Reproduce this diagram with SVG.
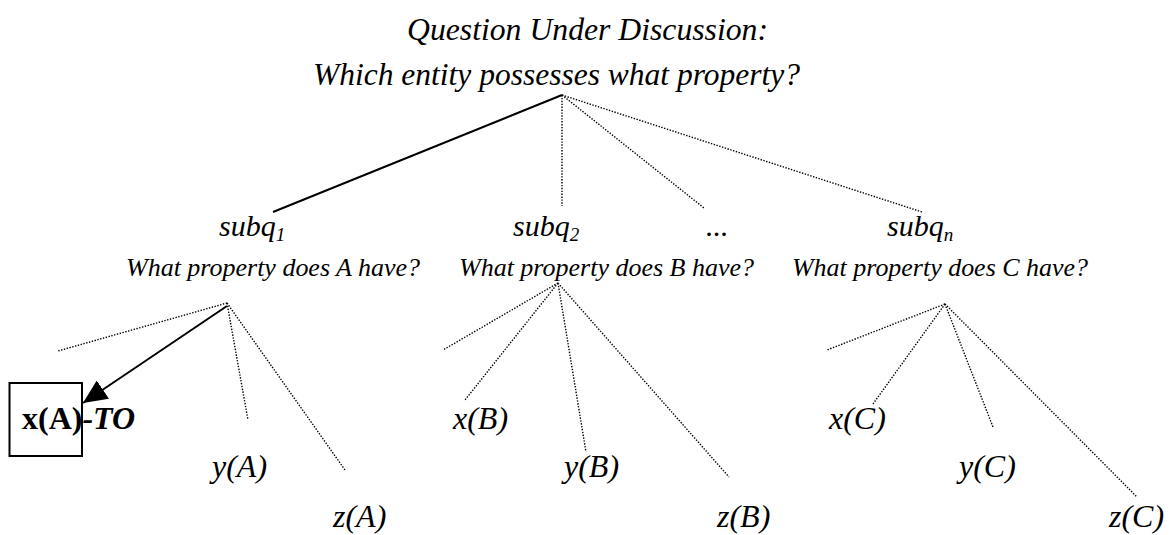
<svg xmlns="http://www.w3.org/2000/svg" width="1173" height="535" viewBox="0 0 1173 535">
<style>
text{font-family:"Liberation Serif","Times New Roman",serif;font-style:italic;fill:#000}
.t{font-size:32px}
.q{font-size:26px}
.s{font-size:30px}
.sub{font-size:19px}
.leaf{font-size:32px}
.dot{fill:none;stroke:#000;stroke-width:1.4;stroke-dasharray:1.4 1.5}
.solid{fill:none;stroke:#000;stroke-width:2}
</style>
<defs>
<marker id="arr" markerUnits="userSpaceOnUse" markerWidth="26" markerHeight="22" refX="24" refY="11" orient="auto">
<path d="M0,0 L24,11 L0,22 Z" fill="#000"/>
</marker>
</defs>
<g id="root">
<text class="t" x="407" y="40" textLength="361" lengthAdjust="spacingAndGlyphs">Question Under Discussion:</text>
<text class="t" x="313" y="85" textLength="487" lengthAdjust="spacingAndGlyphs">Which entity possesses what property?</text>
</g>
<g id="connectors">
<line class="solid" x1="562" y1="95" x2="273" y2="212"/>
<line class="dot" x1="562" y1="95" x2="562" y2="206"/>
<line class="dot" x1="562" y1="95" x2="704" y2="208"/>
<line class="dot" x1="562" y1="95" x2="922" y2="212"/>
<line class="dot" x1="227" y1="303" x2="58" y2="351"/>
<line class="solid" x1="227" y1="306" x2="83" y2="403" marker-end="url(#arr)"/>
<line class="dot" x1="227" y1="303" x2="248" y2="420"/>
<line class="dot" x1="227" y1="303" x2="345" y2="470"/>
<line class="dot" x1="558" y1="283" x2="443" y2="350"/>
<line class="dot" x1="558" y1="283" x2="465" y2="400"/>
<line class="dot" x1="558" y1="283" x2="586" y2="452"/>
<line class="dot" x1="558" y1="283" x2="729" y2="477"/>
<line class="dot" x1="945" y1="304" x2="827" y2="350"/>
<line class="dot" x1="945" y1="304" x2="873" y2="404"/>
<line class="dot" x1="945" y1="304" x2="993" y2="427"/>
<line class="dot" x1="945" y1="304" x2="1137" y2="497"/>
</g>
<g id="subq1">
<text class="s" x="219" y="236">subq<tspan class="sub" dy="5">1</tspan></text>
<text class="q" x="126" y="276" textLength="294" lengthAdjust="spacingAndGlyphs">What property does A have?</text>
</g>
<g id="subq2">
<text class="s" x="513" y="236">subq<tspan class="sub" dy="5">2</tspan></text>
<text class="q" x="459" y="276" textLength="295" lengthAdjust="spacingAndGlyphs">What property does B have?</text>
</g>
<g id="ellipsis">
<text class="s" x="706" y="236">...</text>
</g>
<g id="subqn">
<text class="s" x="887" y="236">subq<tspan class="sub" dy="5">n</tspan></text>
<text class="q" x="792" y="276" textLength="296" lengthAdjust="spacingAndGlyphs">What property does C have?</text>
</g>
<g id="xA">
<rect x="9.5" y="383" width="72.5" height="73" fill="none" stroke="#000" stroke-width="2"/>
<text class="leaf" x="22" y="429"><tspan font-style="normal" font-weight="bold">x(A)</tspan><tspan font-weight="bold">-TO</tspan></text>
</g>
<g id="yA"><text class="leaf" x="212" y="477">y(A)</text></g>
<g id="zA"><text class="leaf" x="333" y="527">z(A)</text></g>
<g id="xB"><text class="leaf" x="453" y="429">x(B)</text></g>
<g id="yB"><text class="leaf" x="564" y="477">y(B)</text></g>
<g id="zB"><text class="leaf" x="717" y="527">z(B)</text></g>
<g id="xC"><text class="leaf" x="829" y="429">x(C)</text></g>
<g id="yC"><text class="leaf" x="959" y="477">y(C)</text></g>
<g id="zC"><text class="leaf" x="1109" y="527">z(C)</text></g>
</svg>
